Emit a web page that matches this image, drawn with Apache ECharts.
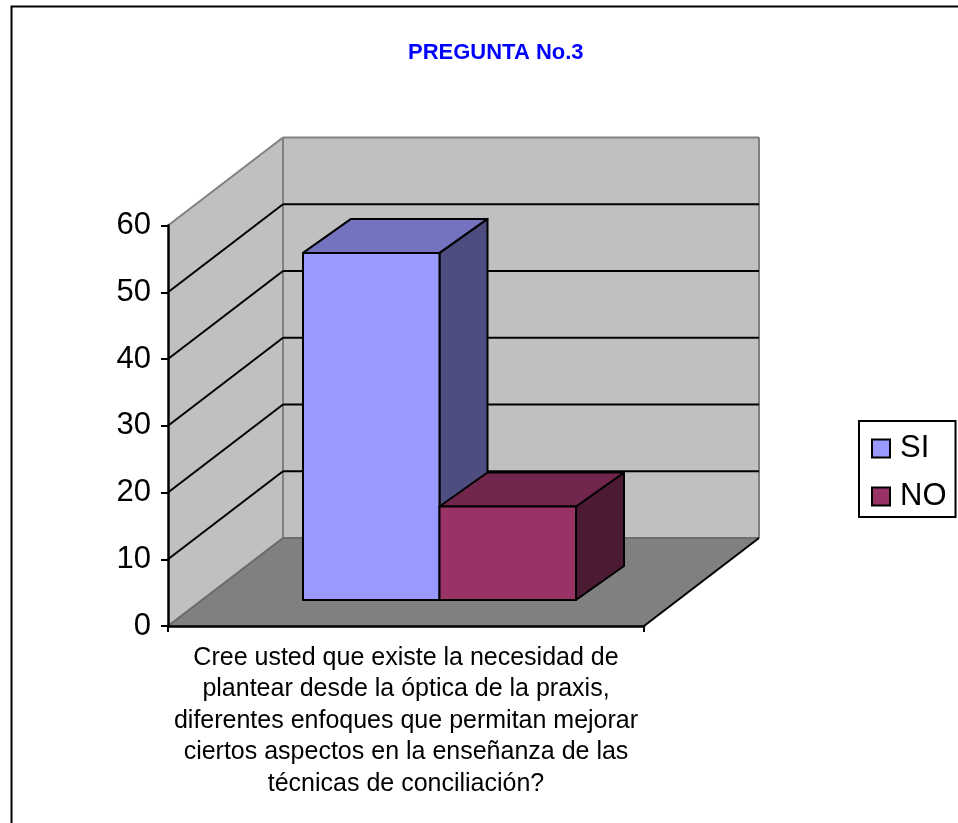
<!DOCTYPE html>
<html><head><meta charset="utf-8">
<style>html,body{margin:0;padding:0;background:#fff}#c{width:958px;height:823px}</style>
<script src="https://cdn.jsdelivr.net/npm/echarts@6/dist/echarts.min.js"></script>
</head><body><div id="c"></div>
<script>
const titleText = 'PREGUNTA No.3';
const categories = ['Cree usted que existe la necesidad de\nplantear desde la óptica de la praxis,\ndiferentes enfoques que permitan mejorar\nciertos aspectos en la enseñanza de las\ntécnicas de conciliación?'];
const seriesNames = ['SI', 'NO'];
const siValues = [52];
const noValues = [14];
const wallTicks = [10, 20, 30, 40, 50];

const FONT = '"Liberation Sans", Arial, sans-serif';
const WALL = {dx: 115, dy: -88};
const BAR = {offX: 33.5, offY: -26, dx: 48, dy: -34, w: 136.5};
const poly = (points, fill, stroke, lw) => ({type: 'polygon', shape: {points},
  style: {fill, stroke: stroke || null, lineWidth: lw || 0, lineJoin: 'round'}});
const seg = (a, b, stroke, lw) => ({type: 'line', shape: {x1: a[0], y1: a[1], x2: b[0], y2: b[1]},
  style: {stroke, lineWidth: lw}});

function renderWalls(params, api) {
  const cs = params.coordSys;
  const xL = cs.x, xR = cs.x + cs.width, yB = api.coord([0, 0])[1], yT = api.coord([0, 60])[1];
  const d = WALL;
  const grey = '#808080';
  return {type: 'group', children: [
    poly([[xL, yT], [xL + d.dx, yT + d.dy], [xL + d.dx, yB + d.dy], [xL, yB]], '#c0c0c0'),
    poly([[xL + d.dx, yT + d.dy], [xR + d.dx, yT + d.dy], [xR + d.dx, yB + d.dy], [xL + d.dx, yB + d.dy]], '#c0c0c0'),
    poly([[xL, yB], [xR, yB], [xR + d.dx, yB + d.dy], [xL + d.dx, yB + d.dy]], '#808080'),
    seg([xL, yT], [xL + d.dx, yT + d.dy], grey, 2),
    seg([xL + d.dx, yT + d.dy], [xR + d.dx, yT + d.dy], grey, 2),
    seg([xL + d.dx, yT + d.dy], [xL + d.dx, yB + d.dy], grey, 2),
    seg([xR + d.dx, yT + d.dy], [xR + d.dx, yB + d.dy], grey, 2),
    seg([xL + d.dx, yB + d.dy], [xR + d.dx, yB + d.dy], '#6e6e6e', 2),
    seg([xL, yB], [xL + d.dx, yB + d.dy], '#6a6a6a', 2),
    seg([xR, yB], [xR + d.dx, yB + d.dy], '#000', 2)
  ]};
}
function renderGrid(params, api) {
  const cs = params.coordSys;
  const y = api.coord([0, api.value(0)])[1];
  const xL = cs.x, xR = cs.x + cs.width, d = WALL;
  return {type: 'group', children: [
    seg([xL, y], [xL + d.dx, y + d.dy], '#000', 2),
    seg([xL + d.dx, y + d.dy], [xR + d.dx, y + d.dy], '#000', 2)
  ]};
}
function barRenderer(side, front, top, right) {
  return function (params, api) {
    const cx = api.coord([0, 0])[0];
    const x0 = cx + BAR.offX + side * BAR.w, x1 = x0 + BAR.w;
    const yb = api.coord([0, 0])[1] + BAR.offY;
    const yt = api.coord([0, api.value(0)])[1] + BAR.offY;
    const {dx, dy} = BAR;
    return {type: 'group', children: [
      poly([[x1, yt], [x1 + dx, yt + dy], [x1 + dx, yb + dy], [x1, yb]], right, '#000', 2),
      poly([[x0, yt], [x0 + dx, yt + dy], [x1 + dx, yt + dy], [x1, yt]], top, '#000', 2),
      poly([[x0, yt], [x1, yt], [x1, yb], [x0, yb]], front, '#000', 2)
    ]};
  };
}
const chart = echarts.init(document.getElementById('c'), null, {renderer: 'canvas'});
chart.setOption({
  animation: false,
  backgroundColor: '#fff',
  textStyle: {fontFamily: FONT},
  title: {text: titleText, left: 408, top: 42, padding: 0,
    textStyle: {color: '#0000ff', fontWeight: 'bold', fontSize: 22, fontFamily: FONT, letterSpacing: -0.75}},
  graphic: [{type: 'polyline', z: 100, shape: {points: [[11.5, 823], [11.5, 6.5], [958, 6.5]]},
    style: {stroke: '#000', lineWidth: 2, fill: null}}],
  legend: {data: seriesNames, left: 859, top: 421, orient: 'vertical', icon: 'rect',
    padding: [12, 9, 5, 12], itemWidth: 18, itemHeight: 18, itemGap: 17,
    borderColor: '#000', borderWidth: 2, backgroundColor: '#fff',
    itemStyle: {borderColor: '#000', borderWidth: 2},
    textStyle: {fontSize: 31, color: '#000', fontFamily: FONT, padding: [0, 0, 0, 5]}},
  grid: {left: 168, top: 225.5, width: 476, height: 400.5},
  xAxis: {type: 'category', data: categories, z: 5,
    axisLine: {lineStyle: {color: '#000', width: 2.5}},
    axisTick: {show: true, length: 6, lineStyle: {color: '#000', width: 2}},
    axisLabel: {fontSize: 25, color: '#000', lineHeight: 31.5, margin: 16, fontFamily: FONT, interval: 0}},
  yAxis: {type: 'value', min: 0, max: 60, interval: 10, z: 5,
    axisLine: {show: true, lineStyle: {color: '#000', width: 2.5}},
    axisTick: {show: true, length: 7, lineStyle: {color: '#000', width: 2}},
    splitLine: {show: false},
    axisLabel: {fontSize: 31, color: '#000', margin: 17, fontFamily: FONT, padding: [10, 0, 0, 0]}},
  series: [
    {type: 'custom', name: 'walls', z: 1, silent: true, renderItem: renderWalls, data: [0]},
    {type: 'custom', name: 'wallGrid', z: 2, silent: true, renderItem: renderGrid, data: wallTicks.map(v => [v])},
    {type: 'custom', name: seriesNames[0], z: 3, renderItem: barRenderer(-1, '#9999ff', '#7373bf', '#4d4d80'),
      itemStyle: {color: '#9999ff'}, data: siValues.map(v => [v])},
    {type: 'custom', name: seriesNames[1], z: 4, renderItem: barRenderer(0, '#993366', '#73264d', '#4d1a33'),
      itemStyle: {color: '#993366'}, data: noValues.map(v => [v])}
  ]
});
</script></body></html>
